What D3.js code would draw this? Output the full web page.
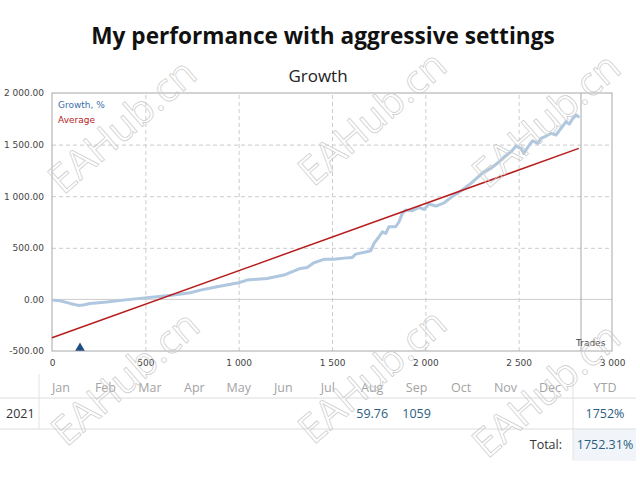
<!DOCTYPE html>
<html lang="en">
	<head>
		<meta charset="utf-8">
		<title>growth chart</title>
		<script type="text/javascript" src="https://cdn.jsdelivr.net/npm/d3@7"></script>
		<style type="text/css">
			body { margin: 0; background: #fff; }
			.tick text { font-family: "DejaVu Sans", sans-serif; font-size: 9px; fill: #444; }
		</style>
	</head>

	<body>
        <script type="text/javascript">

            // chart width and height
			var w = 640;
			var h = 480;

            // growth curve (trades, growth %)
            var growthTrades = [0,43,97,141,168,204,294,383,472,562,651,741,795,884,1000,1045,1152,1242,1331,1367,
                1403,1457,1510,1564,1609,1627,1680,1707,1725,1752,1770,1788,1805,1841,1859,1877,1895,1931,1966,1993,
                2020,2056,2101,2154,2173,2244,2315,2351,2396,2423,2459,2486,2512,2527,2557,2575,2602,2620,2647,2674,
                2700,2727,2754,2772,2790,2808,2825];
            var growthValues = [-7,-13,-39,-58,-55,-39,-26,-7,10,25,42,64,90,122,161,187,203,236,300,310,
                355,388,388,400,407,439,459,471,543,607,655,640,704,704,752,834,866,859,892,872,
                924,904,936,1011,1027,1124,1237,1270,1334,1382,1431,1486,1464,1415,1496,1537,1512,1561,1583,1609,
                1593,1658,1722,1699,1754,1786,1764];

            // average (trend) line end points
            var averageTrades = [0, 2822];
            var averageValues = [-372, 1463];

            var lastTrade = 2834;
            var drawdownTrades = [150];

            var yTicks = [-500, 0, 500, 1000, 1500, 2000];
            var xTicks = [0, 500, 1000, 1500, 2000, 2500, 3000];

            // monthly table
            var months = ["Jan","Feb","Mar","Apr","May","Jun","Jul","Aug","Sep","Oct","Nov","Dec"];
            var year = "2021";
            var monthValues = {Aug: "59.76", Sep: "1059"};
            var ytd = "1752%";
            var total = "1752.31%";

            var locale = d3.formatLocale({decimal: ".", thousands: " ", grouping: [3], currency: ["", ""], minus: "-"});
            var fmtY = locale.format(",.2f");
            var fmtX = locale.format(",d");

			var svg = d3.select("body")
						.append("svg")
						.attr("width", w)
						.attr("height", h);

            svg.append("rect").attr("width", w).attr("height", h).attr("fill", "#fff");

            var xScale = d3.scaleLinear().domain([0, 3000]).range([52, 612]);
            var yScale = d3.scaleLinear().domain([-500, 2000]).range([351, 93]);

            // titles
            svg.append("text")
                .attr("x", 323).attr("y", 44)
                .attr("text-anchor", "middle")
                .style("font-family", "Open Sans")
                .style("font-weight", "bold")
                .style("font-size", "22.6px")
                .style("fill", "#111")
                .text("My performance with aggressive settings");

            svg.append("text")
                .attr("x", 318).attr("y", 82)
                .attr("text-anchor", "middle")
                .style("font-family", "Open Sans")
                .style("font-size", "17px")
                .style("fill", "#222")
                .text("Growth");

            // grid lines
            svg.append("g")
                .attr("transform", "translate(0," + yScale(-500) + ")")
                .call(d3.axisBottom(xScale).tickValues([500, 1000, 1500, 2000, 2500]).tickSize(-(yScale(-500) - yScale(2000))).tickFormat(""))
                .call(function(g){ g.select(".domain").remove(); })
                .selectAll("line").attr("stroke", "#ccc").attr("stroke-dasharray", "4,3");

            svg.append("g")
                .attr("transform", "translate(" + xScale(0) + ",0)")
                .call(d3.axisLeft(yScale).tickValues([500, 1000, 1500]).tickSize(-(xScale(3000) - xScale(0))).tickFormat(""))
                .call(function(g){ g.select(".domain").remove(); })
                .selectAll("line").attr("stroke", "#ccc").attr("stroke-dasharray", "4,3");

            // zero line
            svg.append("line")
                .attr("x1", xScale(0)).attr("x2", xScale(3000))
                .attr("y1", yScale(0)).attr("y2", yScale(0))
                .attr("stroke", "#ccc");

            // plot frame
            svg.append("rect")
                .attr("x", xScale(0)).attr("y", yScale(2000))
                .attr("width", xScale(3000) - xScale(0))
                .attr("height", yScale(-500) - yScale(2000))
                .attr("fill", "none").attr("stroke", "#a8a8a8");

            // last trade marker
            svg.append("line")
                .attr("x1", xScale(lastTrade)).attr("x2", xScale(lastTrade))
                .attr("y1", yScale(2000)).attr("y2", yScale(-500))
                .attr("stroke", "#a8a8a8");

            // axes labels
            svg.append("g")
                .attr("transform", "translate(" + (xScale(0) - 5) + ",0)")
                .call(d3.axisLeft(yScale).tickValues(yTicks).tickSize(0).tickFormat(fmtY))
                .call(function(g){ g.select(".domain").remove(); });

            svg.append("g")
                .attr("transform", "translate(0," + (yScale(-500) + 6) + ")")
                .call(d3.axisBottom(xScale).tickValues(xTicks).tickSize(0).tickFormat(fmtX))
                .call(function(g){ g.select(".domain").remove(); });

            svg.append("text")
                .attr("x", 576).attr("y", 346)
                .style("font-family", "DejaVu Sans")
                .style("font-size", "9px")
                .style("fill", "#444")
                .text("Trades");

            // growth line
            var growth = growthTrades.map(function(t, i){ return [t, growthValues[i]]; });
            var line = d3.line()
                .x(function(d){ return xScale(d[0]); })
                .y(function(d){ return yScale(d[1]); });

            svg.append("path")
                .datum(growth)
                .attr("d", line)
                .attr("fill", "none")
                .attr("stroke", "#afc7df")
                .attr("stroke-width", 3)
                .attr("stroke-linejoin", "round");

            // average line
            var average = averageTrades.map(function(t, i){ return [t, averageValues[i]]; });
            svg.append("path")
                .datum(average)
                .attr("d", line)
                .attr("fill", "none")
                .attr("stroke", "#b71c1c")
                .attr("stroke-width", 1.5);

            // drawdown triangle
            svg.selectAll(".dd")
                .data(drawdownTrades)
                .enter()
                .append("path")
                .attr("class", "dd")
                .attr("transform", function(d){ return "translate(" + xScale(d) + "," + (yScale(-500) - 3) + ")"; })
                .attr("d", d3.symbol().type(d3.symbolTriangle).size(40))
                .attr("fill", "#1f4f82");

            // legend
            svg.append("text")
                .attr("x", 58).attr("y", 108)
                .style("font-family", "DejaVu Sans").style("font-size", "9px")
                .style("fill", "#3b70a8")
                .text("Growth, %");
            svg.append("text")
                .attr("x", 58).attr("y", 123)
                .style("font-family", "DejaVu Sans").style("font-size", "9px")
                .style("fill", "#b71c1c")
                .text("Average");

            // ---- monthly table ----
            var colScale = d3.scalePoint().domain(months).range([61, 550]);
            var ytdX = 605;

            svg.append("rect")
                .attr("x", 573).attr("y", 429).attr("width", 63).attr("height", 32)
                .attr("fill", "#f1f5f9");

            svg.append("line").attr("x1", 0).attr("x2", 636).attr("y1", 398).attr("y2", 398).attr("stroke", "#ddd");
            svg.append("line").attr("x1", 0).attr("x2", 636).attr("y1", 429).attr("y2", 429).attr("stroke", "#ddd");
            svg.append("line").attr("x1", 39).attr("x2", 39).attr("y1", 374).attr("y2", 429).attr("stroke", "#e2e2e2");
            svg.append("line").attr("x1", 573).attr("x2", 573).attr("y1", 377).attr("y2", 460).attr("stroke", "#e2e2e2");

            var tableFont = "Open Sans";

            svg.selectAll(".month")
                .data(months)
                .enter()
                .append("text")
                .attr("class", "month")
                .attr("x", function(d){ return colScale(d); })
                .attr("y", 392)
                .attr("text-anchor", "middle")
                .style("font-family", tableFont).style("font-size", "12.5px")
                .style("fill", "#a3a3a3")
                .text(function(d){ return d; });

            svg.append("text")
                .attr("x", ytdX).attr("y", 392)
                .attr("text-anchor", "middle")
                .style("font-family", tableFont).style("font-size", "12.5px")
                .style("fill", "#a3a3a3")
                .text("YTD");

            svg.append("text")
                .attr("x", 6).attr("y", 418)
                .style("font-family", tableFont).style("font-size", "12.5px")
                .style("fill", "#333")
                .text(year);

            svg.selectAll(".mval")
                .data(months.filter(function(m){ return monthValues[m]; }))
                .enter()
                .append("text")
                .attr("class", "mval")
                .attr("x", function(d){ return colScale(d); })
                .attr("y", 418)
                .attr("text-anchor", "middle")
                .style("font-family", tableFont).style("font-size", "12.5px")
                .style("fill", "#2b5d80")
                .text(function(d){ return monthValues[d]; });

            svg.append("text")
                .attr("x", ytdX).attr("y", 418)
                .attr("text-anchor", "middle")
                .style("font-family", tableFont).style("font-size", "12.5px")
                .style("fill", "#2b5d80")
                .text(ytd);

            svg.append("text")
                .attr("x", 562).attr("y", 449)
                .attr("text-anchor", "end")
                .style("font-family", tableFont).style("font-size", "12.5px")
                .style("fill", "#333")
                .text("Total:");

            svg.append("text")
                .attr("x", ytdX).attr("y", 449)
                .attr("text-anchor", "middle")
                .style("font-family", tableFont).style("font-size", "12.5px")
                .style("fill", "#2b5d80")
                .text(total);

            // watermarks (kept inside the frame)
            var marks = [[122, 126], [372, 118], [546, 120], [125, 378], [372, 376], [546, 390]];
            svg.selectAll(".wm")
                .data(marks)
                .enter()
                .append("text")
                .attr("class", "wm")
                .attr("transform", function(d){ return "translate(" + d[0] + "," + d[1] + ") rotate(-41)"; })
                .attr("text-anchor", "middle")
                .attr("dy", "0.35em")
                .style("font-family", "Open Sans").style("font-size", "40px")
                .style("fill", "none")
                .style("stroke", "#cacaca")
                .style("stroke-width", 0.7)
                .text("EAHub.cn");

        </script>
	</body>
</html>
